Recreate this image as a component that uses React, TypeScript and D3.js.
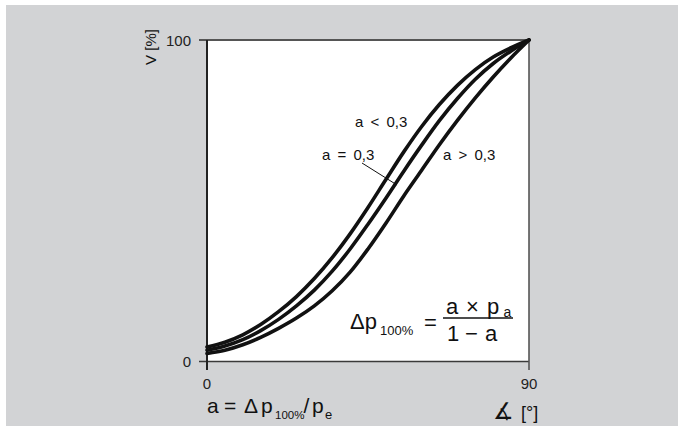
import React from "react";
import * as d3 from "d3";

const angles = [0, 5, 10, 15, 20, 25, 30, 35, 40, 45, 50, 55, 60, 65, 70, 75, 80, 85, 90];
const seriesLow = [4.5, 6, 8.3, 11.5, 15.5, 20.2, 25.8, 32.3, 39.7, 47.9, 56.6, 65.2, 73.1, 80, 85.9, 90.8, 94.7, 97.6, 100]; // a < 0,3
const seriesMid = [3.5, 4.8, 6.8, 9.6, 13.1, 17.3, 22.2, 28.1, 35, 42.7, 50.8, 59.2, 67.3, 75, 81.8, 87.8, 92.7, 96.6, 100]; // a = 0,3
const seriesHigh = [2.5, 3.5, 5.2, 7.5, 10.3, 13.5, 17.3, 22, 27.8, 35, 43, 51.5, 59.5, 67.5, 75, 82, 88.5, 94.5, 100]; // a > 0,3
const xTicks = [0, 90];
const yTicks = [0, 100];
const curveLabels = ["a < 0,3", "a = 0,3", "a > 0,3"];

const W = 678;
const H = 426;
const FONT = "'Liberation Sans', Arial, Helvetica, sans-serif";

export default function App() {
  const x = d3.scaleLinear().domain([0, 90]).range([207, 529]);
  const y = d3.scaleLinear().domain([0, 100]).range([361.5, 40]);
  const line = d3
    .line<[number, number]>()
    .x((d) => x(d[0]))
    .y((d) => y(d[1]))
    .curve(d3.curveCatmullRom.alpha(0.5));
  const all = [seriesLow, seriesMid, seriesHigh];
  const axisColor = "#3a3a3a";
  const x0 = x(0), x1 = x(90), yb = y(0), yt = y(100);

  return (
    <svg
      width={W}
      height={H}
      style={{ position: "absolute", left: 0, top: 0, display: "block" }}
      fontFamily={FONT}
    >
      <rect x={0} y={0} width={W} height={H} fill="#ffffff" />
      <rect x={6} y={5} width={W - 6} height={H - 5} fill="#d2d3d5" />
      <rect x={x0} y={yt} width={x1 - x0} height={yb - yt} fill="#ffffff" />
      {/* frame */}
      <line x1={199} x2={x1} y1={yt} y2={yt} stroke="#555" strokeWidth={2} />
      <line x1={199} x2={x1} y1={yb} y2={yb} stroke={axisColor} strokeWidth={1.6} />
      <line x1={x0} x2={x0} y1={yt} y2={370} stroke="#222" strokeWidth={2} />
      <line x1={x1} x2={x1} y1={yt} y2={370} stroke="#555" strokeWidth={1.6} />

      {/* tick labels */}
      {yTicks.map((t) => (
        <text key={"y" + t} x={191} y={y(t) + 5.5} textAnchor="end" fontSize={15} fill="#222">
          {t}
        </text>
      ))}
      {xTicks.map((t) => (
        <text key={"x" + t} x={x(t)} y={388.5} textAnchor="middle" fontSize={15} fill="#222">
          {t}
        </text>
      ))}

      {/* curves */}
      {all.map((s, i) => (
        <path
          key={i}
          d={line(angles.map((a, j) => [a, s[j]]) as [number, number][]) || ""}
          fill="none"
          stroke="#111"
          strokeWidth={3.6}
          strokeLinecap="round"
        />
      ))}

      {/* curve labels */}
      <text x={355} y={127} fontSize={15} wordSpacing={3} fill="#111">{curveLabels[0]}</text>
      <text x={322} y={160} fontSize={15} wordSpacing={3} fill="#111">{curveLabels[1]}</text>
      <text x={443} y={160} fontSize={15} wordSpacing={3} fill="#111">{curveLabels[2]}</text>
      <line x1={362} y1={163} x2={397} y2={185} stroke="#111" strokeWidth={1} />

      {/* formula */}
      <text x={350} y={328.5} fontSize={22} fill="#111">Δp</text>
      <text x={380} y={335} fontSize={13} fill="#111">100%</text>
      <text x={424} y={329.5} fontSize={22} fill="#111">=</text>
      <line x1={443} x2={513} y1={318} y2={318} stroke="#111" strokeWidth={1.5} />
      <text y={313.5} fontSize={22} fill="#111">
        <tspan x={446}>a</tspan>
        <tspan x={466}>×</tspan>
        <tspan x={487}>p</tspan>
        <tspan x={503.5} y={316.5} fontSize={14}>a</tspan>
      </text>
      <text y={341} fontSize={22} fill="#111">
        <tspan x={447}>1</tspan>
        <tspan x={465}>−</tspan>
        <tspan x={485}>a</tspan>
      </text>

      {/* x axis title */}
      <text y={413} fontSize={21} fill="#111">
        <tspan x={207}>a</tspan>
        <tspan x={224}>=</tspan>
        <tspan x={244}>Δ</tspan>
        <tspan x={261}>p</tspan>
        <tspan x={275} y={418.5} fontSize={11.5}>100%</tspan>
        <tspan x={303.5} y={413}>/</tspan>
        <tspan x={312}>p</tspan>
        <tspan x={325} y={418.5} fontSize={13}>e</tspan>
      </text>
      <text y={419} fontSize={18} fill="#111">
        <tspan x={493} fontFamily="'DejaVu Sans', sans-serif" fontSize={23}>∡</tspan>
        <tspan x={521}>[°]</tspan>
      </text>

      {/* y axis title */}
      <text
        transform={`translate(155.5, 47) rotate(-90)`}
        textAnchor="middle"
        fontSize={15}
        fill="#111"
      >
        V [%]
      </text>
    </svg>
  );
}
